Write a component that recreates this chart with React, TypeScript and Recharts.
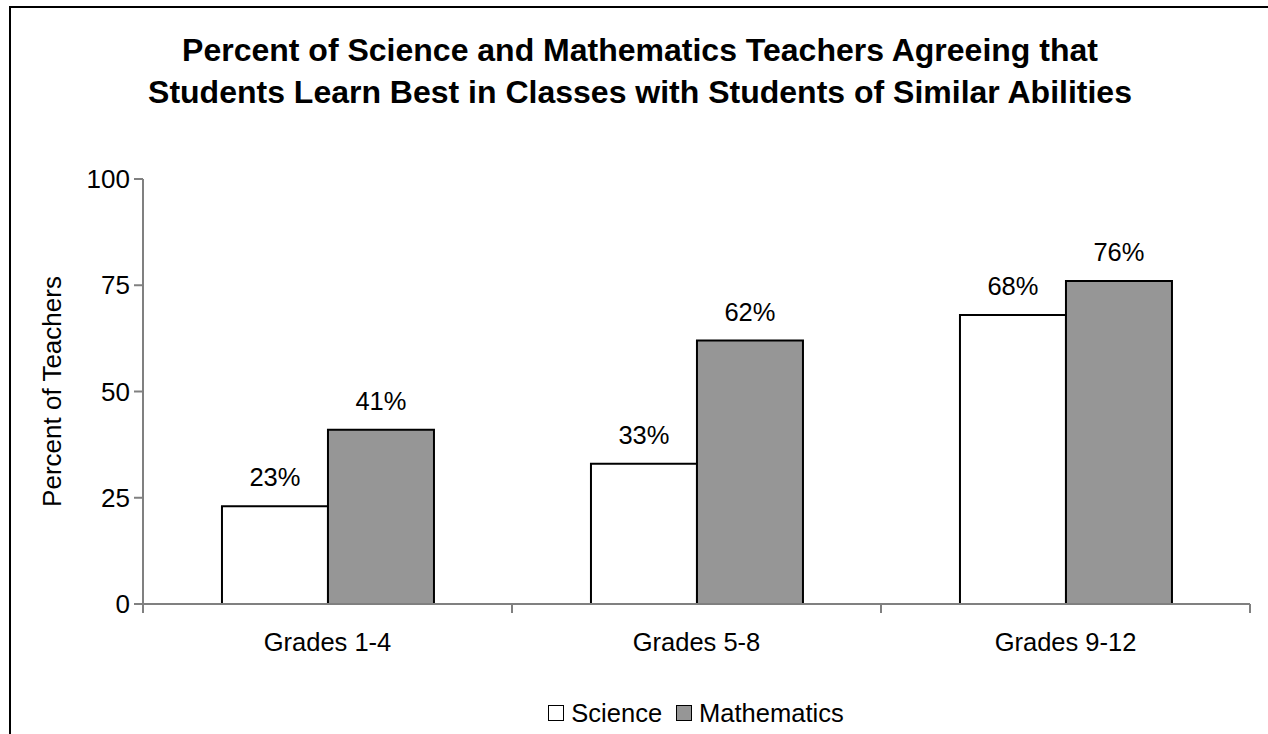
import { BarChart, Bar, XAxis, YAxis, LabelList, Legend } from 'recharts'

const grades = ['Grades 1-4', 'Grades 5-8', 'Grades 9-12']
const science = [23, 33, 68]
const mathematics = [41, 62, 76]
const yTicks = [0, 25, 50, 75, 100]

const SERIES = [
  { key: 'science', name: 'Science', fill: '#ffffff' },
  { key: 'mathematics', name: 'Mathematics', fill: '#969696' },
]

const data = grades.map((grade, i) => ({
  grade,
  pos: i + 0.5,
  science: science[i],
  mathematics: mathematics[i],
}))

// category boundaries, drawn as ticks like the original spreadsheet chart
const edgeTicks = [...grades.map((_, i) => i), grades.length]

const FONT = '"Liberation Sans", Arial, sans-serif'
const AXIS = '#808080'

function YLabel({ viewBox }: any) {
  const x = viewBox.x + 61
  const y = viewBox.y + viewBox.height / 2
  return (
    <text
      transform={`translate(${x},${y}) rotate(-90)`}
      textAnchor="middle"
      fontSize={26}
      fontFamily={FONT}
      fill="#000"
    >
      Percent of Teachers
    </text>
  )
}

function LegendBox() {
  return (
    <div
      style={{
        display: 'flex',
        justifyContent: 'center',
        alignItems: 'center',
        paddingLeft: 124,
        height: 24,
        fontFamily: FONT,
        fontSize: 25.5,
        color: '#000',
      }}
    >
      {SERIES.map((s, i) => (
        <span
          key={s.key}
          style={{ display: 'flex', alignItems: 'center', marginLeft: i ? 14 : 0 }}
        >
          <span
            style={{
              width: 14,
              height: 14,
              background: s.fill,
              border: '1.5px solid #000',
              marginRight: 7,
            }}
          />
          {s.name}
        </span>
      ))}
    </div>
  )
}

export default function App() {
  return (
    <div style={{ position: 'relative', width: 1268, height: 734, overflow: 'hidden', background: '#fff' }}>
      <style>{'body{margin:0;overflow:hidden}'}</style>
      <div
        style={{
          position: 'absolute',
          left: 9,
          top: 6,
          width: 1300,
          height: 800,
          border: '2px solid #000',
        }}
      />
      <div
        style={{
          position: 'absolute',
          left: 0,
          top: 29,
          width: 1280,
          textAlign: 'center',
          fontFamily: FONT,
          fontWeight: 'bold',
          fontSize: 32,
          lineHeight: '42px',
          color: '#000',
        }}
      >
        Percent of Science and Mathematics Teachers Agreeing that
        <br />
        Students Learn Best in Classes with Students of Similar Abilities
      </div>
      <div style={{ position: 'absolute', left: 0, top: 0 }}>
        <BarChart
          width={1268}
          height={734}
          data={data}
          margin={{ top: 179, right: 18, bottom: 9, left: 0 }}
          barCategoryGap="21.4%"
          barGap={0}
        >
          <XAxis
            xAxisId="edge"
            dataKey="pos"
            type="number"
            domain={[0, grades.length]}
            ticks={edgeTicks}
            allowDataOverflow
            tickFormatter={() => ''}
            tickSize={9}
            height={1}
            axisLine={{ stroke: AXIS, strokeWidth: 2 }}
            tickLine={{ stroke: AXIS, strokeWidth: 2 }}
          />
          <XAxis
            xAxisId="grade"
            dataKey="grade"
            axisLine={false}
            tickLine={false}
            tickSize={6}
            tickMargin={22}
            height={96}
            tick={{ fill: '#000', fontSize: 25.5, fontFamily: FONT }}
          />
          <YAxis
            domain={[0, 100]}
            ticks={yTicks}
            width={143}
            tickSize={9}
            tickMargin={4}
            axisLine={{ stroke: AXIS, strokeWidth: 2 }}
            tickLine={{ stroke: AXIS, strokeWidth: 2 }}
            tick={{ fill: '#000', fontSize: 26, fontFamily: FONT }}
            label={<YLabel />}
          />
          <Legend verticalAlign="bottom" content={<LegendBox />} wrapperStyle={{ left: 0, width: 1268 }} />
          {SERIES.map((s) => (
            <Bar
              key={s.key}
              xAxisId="grade"
              dataKey={s.key}
              name={s.name}
              fill={s.fill}
              stroke="#000"
              strokeWidth={2}
              isAnimationActive={false}
            >
              <LabelList
                dataKey={s.key}
                position="top"
                offset={20}
                formatter={(v: any) => `${v}%`}
                style={{ fill: '#000', fontSize: 25.5, fontFamily: FONT }}
              />
            </Bar>
          ))}
        </BarChart>
      </div>
    </div>
  )
}
